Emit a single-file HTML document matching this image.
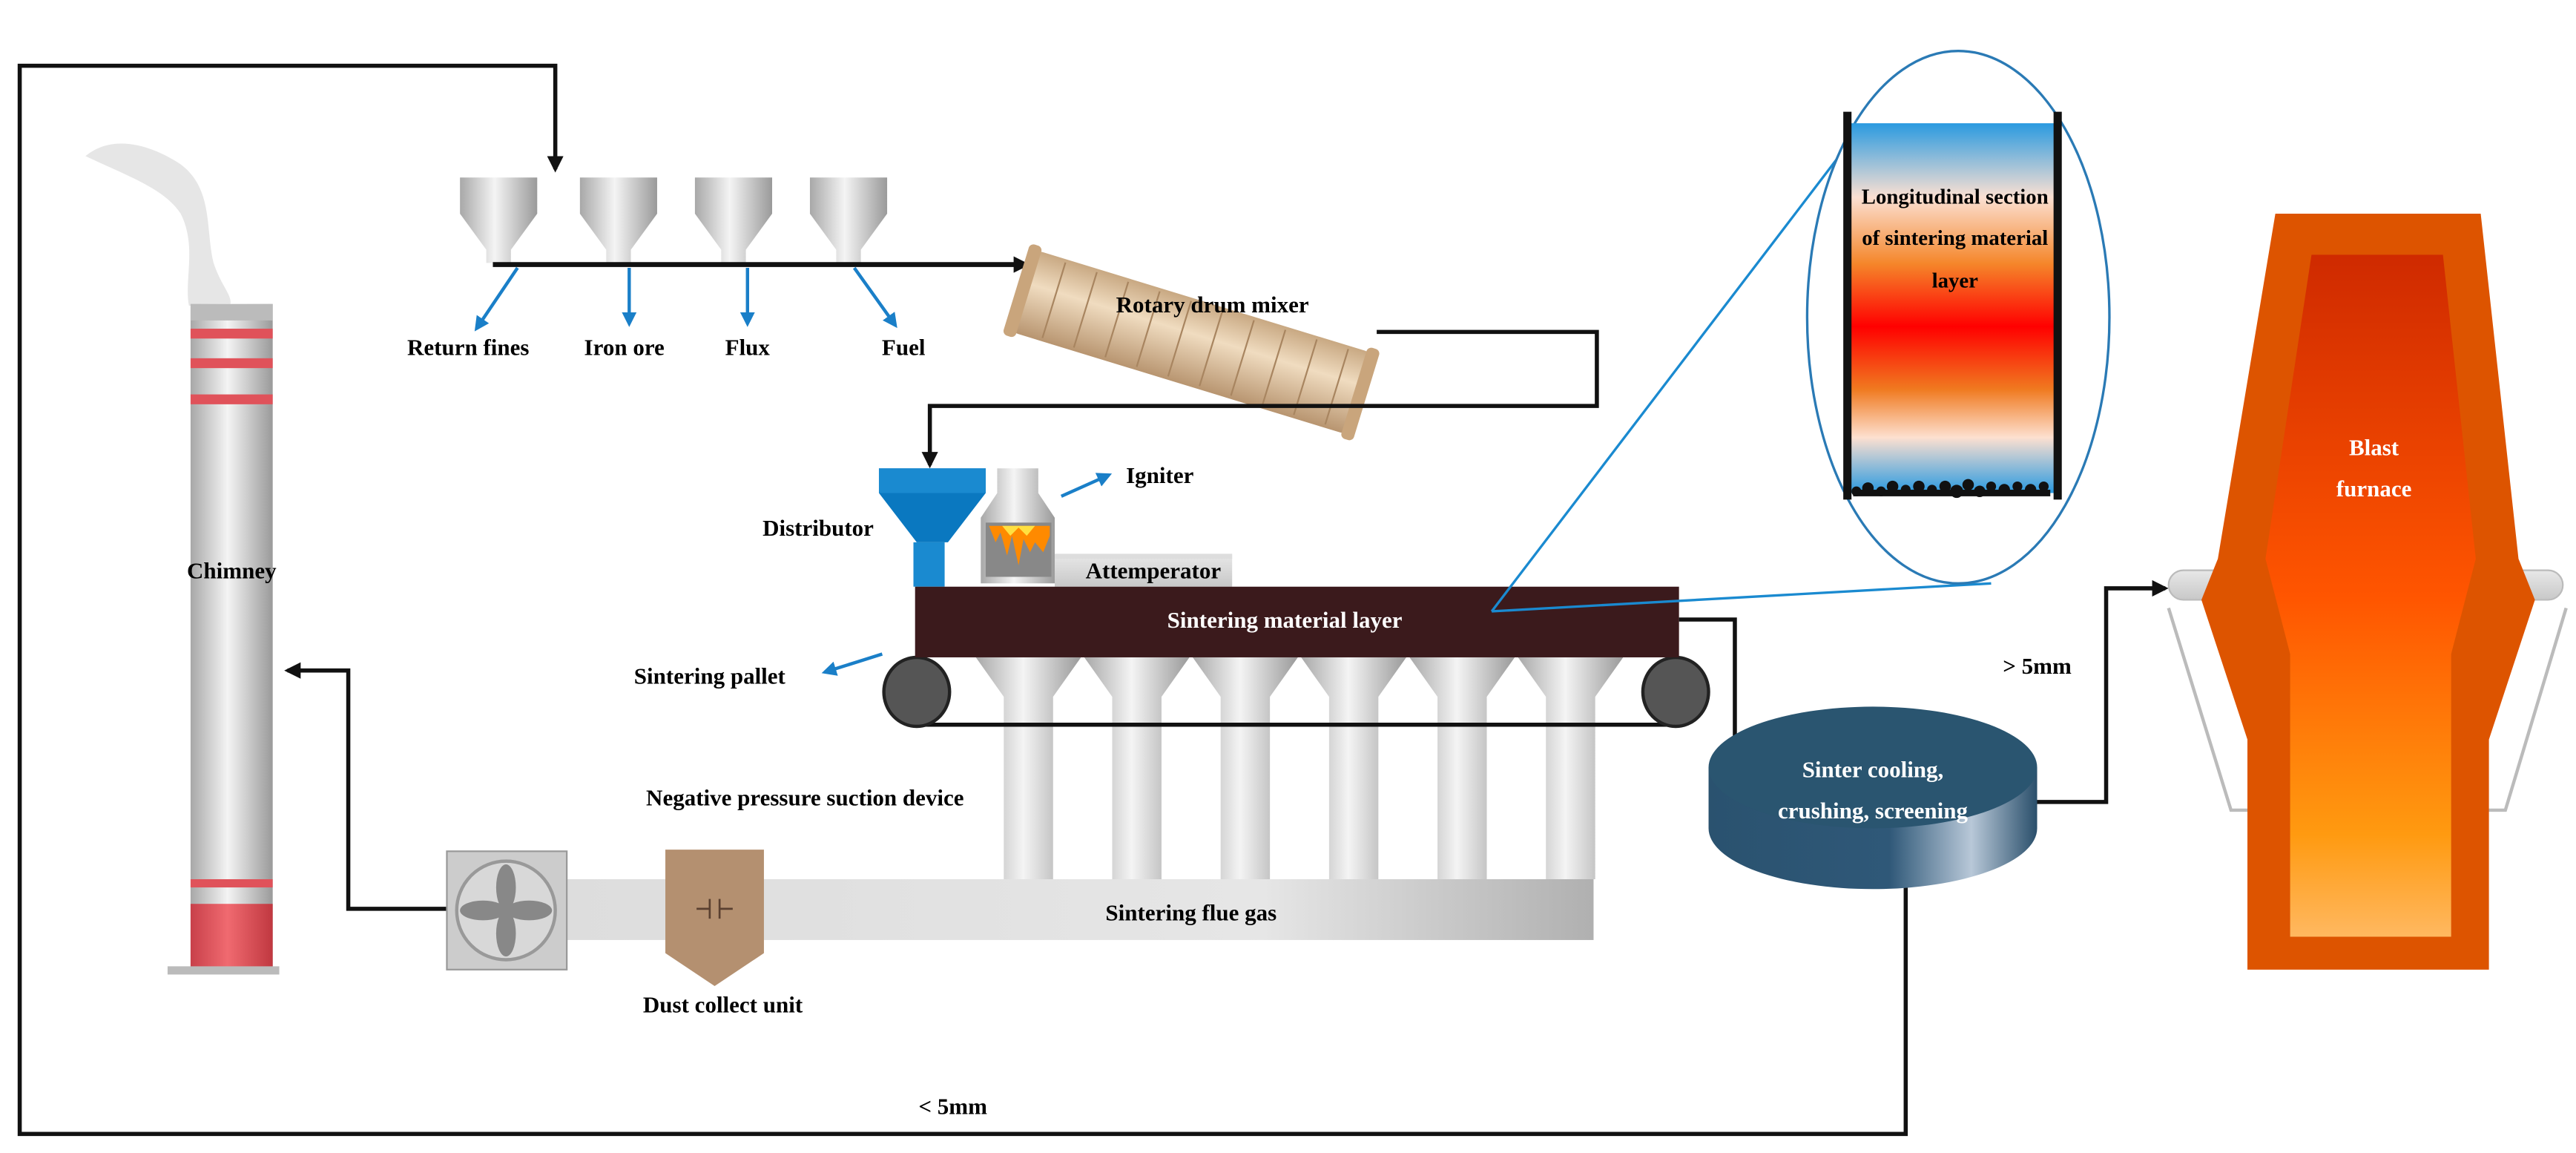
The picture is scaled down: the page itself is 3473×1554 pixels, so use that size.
<!DOCTYPE html>
<html><head><meta charset="utf-8"><style>
html,body{margin:0;padding:0;background:#fff}
svg{display:block}
text{font-family:"Liberation Serif",serif;font-weight:bold;font-size:14px;text-anchor:middle}
</style></head><body>
<svg width="3473" height="1554" viewBox="0 0 1568 701.6" preserveAspectRatio="none" xmlns="http://www.w3.org/2000/svg">
<defs>
<linearGradient id="gh" x1="0" x2="1"><stop offset="0" stop-color="#a8a8a8"/><stop offset=".45" stop-color="#f4f4f4"/><stop offset="1" stop-color="#9a9a9a"/></linearGradient>
<linearGradient id="gv" x1="0" y1="0" x2="0" y2="1"><stop offset="0" stop-color="#e8e8e8"/><stop offset="1" stop-color="#c8c8c8"/></linearGradient>
<linearGradient id="duct" x1="0" x2="1"><stop offset="0" stop-color="#dcdcdc"/><stop offset=".7" stop-color="#e6e6e6"/><stop offset="1" stop-color="#b0b0b0"/></linearGradient>
<linearGradient id="red" x1="0" x2="1"><stop offset="0" stop-color="#c8404a"/><stop offset=".45" stop-color="#f06a70"/><stop offset="1" stop-color="#c03840"/></linearGradient>
<linearGradient id="sec" x1="0" y1="0" x2="0" y2="1">
<stop offset="0" stop-color="#2a9ae0"/><stop offset=".2" stop-color="#fbe0d2"/><stop offset=".38" stop-color="#f5862a"/><stop offset=".55" stop-color="#ff0000"/><stop offset=".72" stop-color="#f07a20"/><stop offset=".85" stop-color="#fde0d0"/><stop offset="1" stop-color="#2a9ae0"/></linearGradient>
<linearGradient id="bf" x1="0" y1="0" x2="0" y2="1"><stop offset="0" stop-color="#cf2a00"/><stop offset=".5" stop-color="#ff5500"/><stop offset=".85" stop-color="#ff9a10"/><stop offset="1" stop-color="#ffb860"/></linearGradient>
<linearGradient id="cool" x1="0" x2="1"><stop offset="0" stop-color="#2a526f"/><stop offset=".55" stop-color="#2f5878"/><stop offset=".8" stop-color="#b8c8d8"/><stop offset="1" stop-color="#2a4f6b"/></linearGradient>
<linearGradient id="mix" x1="0" y1="0" x2="0" y2="1"><stop offset="0" stop-color="#c8a882"/><stop offset=".4" stop-color="#f0dcc0"/><stop offset="1" stop-color="#b89570"/></linearGradient>
<marker id="ak" markerWidth="10" markerHeight="10" refX="8" refY="5" orient="auto" markerUnits="userSpaceOnUse"><path d="M0,0 L10,5 L0,10 z" fill="#111"/></marker>
<marker id="ab" markerWidth="9" markerHeight="9" refX="7" refY="4.5" orient="auto" markerUnits="userSpaceOnUse"><path d="M0,0 L9,4.5 L0,9 z" fill="#1a7fc8"/></marker>
</defs>

<!-- outer loop -->
<polyline points="1160,540 1160,690 12,690 12,40 338,40 338,103" fill="none" stroke="#111" stroke-width="2.5" marker-end="url(#ak)"/>
<text x="580" y="678">&lt; 5mm</text>

<!-- chimney smoke -->
<path d="M52,95 C70,80 95,90 110,100 C130,115 125,140 130,160 C135,175 142,180 140,186 L115,186 C112,170 120,150 110,130 C100,115 80,108 52,95 z" fill="#e6e6e6"/>
<!-- chimney -->
<rect x="116" y="185" width="50" height="405" fill="url(#gh)"/>
<rect x="116" y="185" width="50" height="10" fill="#bbb"/>
<rect x="116" y="200" width="50" height="6" fill="#e0525a"/>
<rect x="116" y="218" width="50" height="6" fill="#e0525a"/>
<rect x="116" y="240" width="50" height="6" fill="#e0525a"/>
<rect x="116" y="535" width="50" height="5" fill="#e0525a"/>
<rect x="116" y="550" width="50" height="40" fill="url(#red)"/>
<rect x="102" y="588" width="68" height="5" fill="#bbb"/>
<text x="141" y="352">Chimney</text>

<!-- fan to chimney -->
<polyline points="272,553 212,553 212,408 175,408" fill="none" stroke="#111" stroke-width="2.5" marker-end="url(#ak)"/>

<!-- hoppers -->
<g fill="url(#gh)">
<path d="M280,108 h47 v22 l-16,22 v8 h-15 v-8 l-16,-22 z"/>
<path d="M353,108 h47 v22 l-16,22 v8 h-15 v-8 l-16,-22 z"/>
<path d="M423,108 h47 v22 l-16,22 v8 h-15 v-8 l-16,-22 z"/>
<path d="M493,108 h47 v22 l-16,22 v8 h-15 v-8 l-16,-22 z"/>
</g>
<line x1="300" y1="161" x2="625" y2="161" stroke="#111" stroke-width="3" marker-end="url(#ak)"/>
<g stroke="#1a7fc8" stroke-width="2" fill="none">
<line x1="315" y1="163" x2="290" y2="200" marker-end="url(#ab)"/>
<line x1="383" y1="163" x2="383" y2="197" marker-end="url(#ab)"/>
<line x1="455" y1="163" x2="455" y2="197" marker-end="url(#ab)"/>
<line x1="520" y1="163" x2="545" y2="198" marker-end="url(#ab)"/>
</g>
<text x="285" y="216">Return fines</text>
<text x="380" y="216">Iron ore</text>
<text x="455" y="216">Flux</text>
<text x="550" y="216">Fuel</text>

<!-- mixer -->
<g transform="translate(630,152) rotate(17)">
<rect x="0" y="0" width="215" height="52" rx="5" fill="url(#mix)"/>
<g stroke="#a88560" stroke-width="1">
<line x1="20" y1="2" x2="20" y2="50"/><line x1="40" y1="2" x2="40" y2="50"/><line x1="60" y1="2" x2="60" y2="50"/><line x1="80" y1="2" x2="80" y2="50"/><line x1="100" y1="2" x2="100" y2="50"/><line x1="120" y1="2" x2="120" y2="50"/><line x1="140" y1="2" x2="140" y2="50"/><line x1="160" y1="2" x2="160" y2="50"/><line x1="180" y1="2" x2="180" y2="50"/><line x1="200" y1="2" x2="200" y2="50"/>
</g>
<rect x="-4" y="-3" width="8" height="58" rx="3" fill="#c9a57c"/>
<rect x="211" y="-3" width="8" height="58" rx="3" fill="#c9a57c"/>
</g>
<text x="738" y="190">Rotary drum mixer</text>
<polyline points="838,202 972,202 972,247 566,247 566,283" fill="none" stroke="#111" stroke-width="2.5" marker-end="url(#ak)"/>

<!-- distributor -->
<path d="M535,285 h65 v15 l-23,30 h-19 l-23,-30 z" fill="#0a78c0"/>
<rect x="535" y="285" width="65" height="15" fill="#1a8ad0"/>
<rect x="556" y="330" width="19" height="27" fill="#1a8ad0"/>
<text x="498" y="326">Distributor</text>
<!-- igniter -->
<path d="M607,285 h25 v15 l10,15 v40 h-45 v-40 l10,-15 z" fill="url(#gh)"/>
<rect x="600" y="318" width="40" height="33" fill="#888"/>
<path d="M602,320 l4,10 l3,-6 l4,14 l3,-12 l4,18 l3,-16 l4,8 l3,-6 l5,6 l4,-10 v-6 z" fill="#ff8a00"/>
<path d="M610,320 l5,6 l5,-5 l5,5 l5,-6 z" fill="#ffe040"/>
<line x1="646" y1="302" x2="675" y2="289" stroke="#1a7fc8" stroke-width="2" marker-end="url(#ab)"/>
<text x="706" y="294">Igniter</text>
<!-- attemperator -->
<rect x="642" y="337" width="108" height="20" fill="url(#gv)"/>
<rect x="642" y="337" width="108" height="3" fill="#ddd"/>
<text x="702" y="352">Attemperator</text>

<!-- funnels -->
<g fill="url(#gh)">
<path d="M594,400 h64 l-17,24 v111 h-30 v-111 z"/>
<path d="M660,400 h64 l-17,24 v111 h-30 v-111 z"/>
<path d="M726,400 h64 l-17,24 v111 h-30 v-111 z"/>
<path d="M792,400 h64 l-17,24 v111 h-30 v-111 z"/>
<path d="M858,400 h64 l-17,24 v111 h-30 v-111 z"/>
<path d="M924,400 h64 l-17,24 v111 h-30 v-111 z"/>
</g>
<line x1="558" y1="441" x2="1020" y2="441" stroke="#111" stroke-width="2.5"/>
<ellipse cx="558" cy="421" rx="20" ry="21" fill="#555" stroke="#222" stroke-width="2"/>
<ellipse cx="1020" cy="421" rx="20" ry="21" fill="#555" stroke="#222" stroke-width="2"/>
<!-- sintering layer -->
<rect x="557" y="357" width="465" height="43" fill="#3b1a1c"/>
<text x="782" y="382" fill="#fff">Sintering material layer</text>
<line x1="537" y1="398" x2="502" y2="409" stroke="#1a7fc8" stroke-width="2" marker-end="url(#ab)"/>
<text x="432" y="416">Sintering pallet</text>
<text x="490" y="490">Negative pressure suction device</text>

<!-- duct -->
<rect x="300" y="535" width="670" height="37" fill="url(#duct)"/>
<text x="725" y="560">Sintering flue gas</text>
<!-- fan -->
<rect x="272" y="518" width="73" height="72" fill="#ccc" stroke="#999"/>
<circle cx="308" cy="554" r="30" fill="#d8d8d8" stroke="#999" stroke-width="2"/>
<g fill="#888"><ellipse cx="308" cy="540" rx="6" ry="14"/><ellipse cx="308" cy="568" rx="6" ry="14"/><ellipse cx="294" cy="554" rx="14" ry="6"/><ellipse cx="322" cy="554" rx="14" ry="6"/></g>
<!-- dust collector -->
<path d="M405,517 h60 v63 l-30,20 l-30,-20 z" fill="#b49070"/>
<g stroke="#5a4030" stroke-width="1.2"><line x1="424" y1="553" x2="432" y2="553"/><line x1="432" y1="547" x2="432" y2="559"/><line x1="438" y1="547" x2="438" y2="559"/><line x1="438" y1="553" x2="446" y2="553"/></g>
<text x="440" y="616">Dust collect unit</text>

<!-- to cooler -->
<polyline points="1022,377 1056,377 1056,481 1072,481" fill="none" stroke="#111" stroke-width="2.5" marker-end="url(#ak)"/>
<!-- cooler -->
<path d="M1040,467 v37 a100,37 0 0 0 200,0 v-37 z" fill="url(#cool)"/>
<ellipse cx="1140" cy="467" rx="100" ry="37" fill="#2a5570"/>
<text x="1140" y="473" fill="#fff">Sinter cooling,</text>
<text x="1140" y="498" fill="#fff">crushing, screening</text>
<polyline points="1240,488 1282,488 1282,358 1318,358" fill="none" stroke="#111" stroke-width="2.5" marker-end="url(#ak)"/>
<text x="1240" y="410">&gt; 5mm</text>

<!-- magnifier -->
<line x1="908" y1="372" x2="1150" y2="55" stroke="#1a8ad0" stroke-width="1.5"/>
<line x1="908" y1="372" x2="1212" y2="355" stroke="#1a8ad0" stroke-width="1.5"/>
<ellipse cx="1192" cy="193" rx="92" ry="162" fill="#fff" stroke="#2a7ab5" stroke-width="1.5"/>
<rect x="1126" y="75" width="125" height="225" fill="url(#sec)"/>
<rect x="1122" y="68" width="5" height="236" fill="#111"/>
<rect x="1250" y="68" width="5" height="236" fill="#111"/>
<g fill="#111">
<circle cx="1130" cy="299" r="3"/><circle cx="1137" cy="297" r="3.5"/><circle cx="1145" cy="299" r="3"/><circle cx="1152" cy="296" r="3.5"/><circle cx="1160" cy="298" r="3"/><circle cx="1168" cy="296" r="3.5"/><circle cx="1176" cy="298" r="3"/><circle cx="1184" cy="296" r="3.5"/><circle cx="1191" cy="299" r="4"/><circle cx="1198" cy="295" r="3.5"/><circle cx="1205" cy="299" r="3.5"/><circle cx="1212" cy="296" r="3"/><circle cx="1220" cy="298" r="3.5"/><circle cx="1228" cy="296" r="3"/><circle cx="1236" cy="298" r="3.5"/><circle cx="1244" cy="296" r="3"/><rect x="1128" y="298" width="120" height="4"/>
</g>
<text x="1190" y="124" style="font-size:13px">Longitudinal section</text>
<text x="1190" y="149" style="font-size:13px">of sintering material</text>
<text x="1190" y="175" style="font-size:13px">layer</text>

<!-- blast furnace -->
<rect x="1320" y="347" width="240" height="18" rx="9" fill="url(#gv)" stroke="#bbb"/>
<g stroke="#bbb" stroke-width="2" fill="none"><polyline points="1320,370 1358,493 1380,493"/><polyline points="1562,370 1525,493 1500,493"/></g>
<path d="M1385,130 h125 l23,210 l10,25 l-28,85 v140 h-147 v-140 l-28,-85 l10,-25 z" fill="#dd5400"/>
<path d="M1407,155 h80 l20,185 l-15,58 v172 h-98 v-172 l-15,-58 z" fill="url(#bf)"/>
<text x="1445" y="277" fill="#fff">Blast</text>
<text x="1445" y="302" fill="#fff">furnace</text>
</svg>
</body></html>
